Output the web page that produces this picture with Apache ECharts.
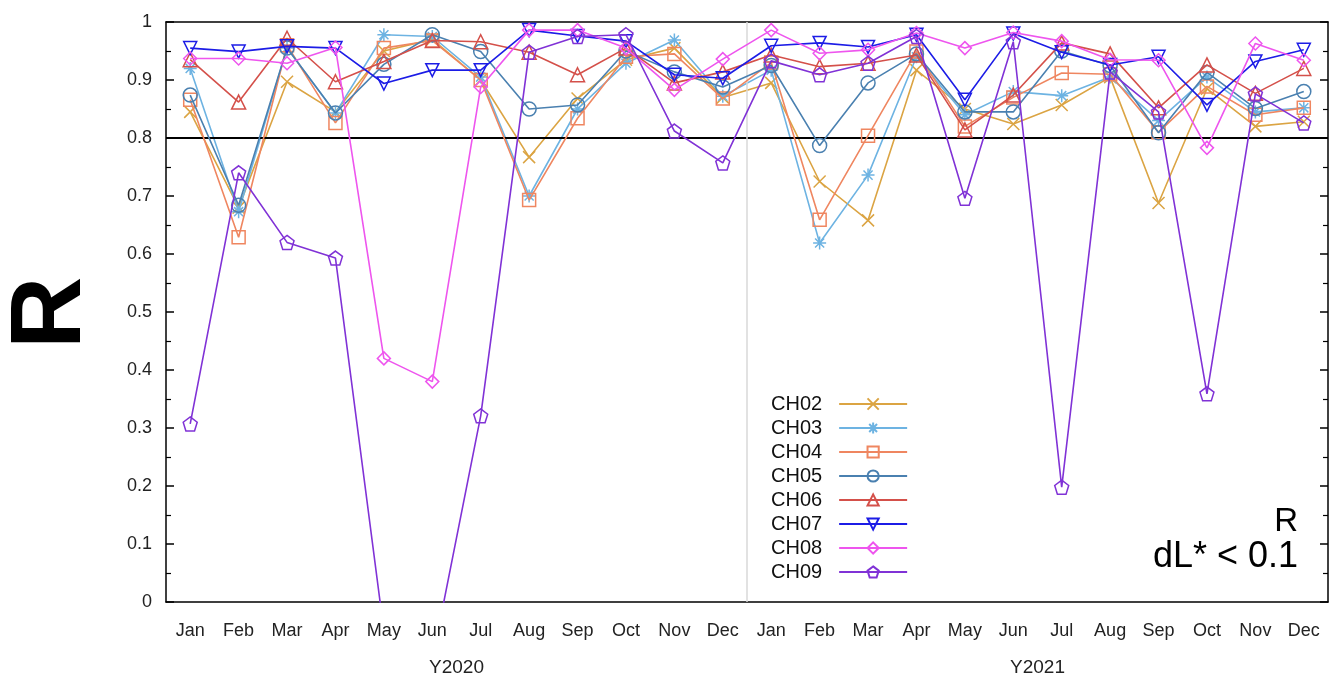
<!DOCTYPE html>
<html>
<head>
<meta charset="utf-8">
<script src="https://cdn.jsdelivr.net/npm/echarts@6/dist/echarts.min.js"></script>
<style>
  html, body { margin: 0; padding: 0; background: #fff; }
  #chart { width: 1331px; height: 691px; }
</style>
</head>
<body>
<div id="chart"></div>
<script>
// Month labels for two consecutive years
const months = ['Jan','Feb','Mar','Apr','May','Jun','Jul','Aug','Sep','Oct','Nov','Dec',
                'Jan','Feb','Mar','Apr','May','Jun','Jul','Aug','Sep','Oct','Nov','Dec'];
const years = ['Y2020', 'Y2021'];
const yTicks = [0, 0.1, 0.2, 0.3, 0.4, 0.5, 0.6, 0.7, 0.8, 0.9, 1];
const threshold = 0.8;
const yearBoundary = 11.5; // between the two Decembers/Januaries

// Monthly R per channel
const CH02 = [0.845,0.680,0.897,0.845,0.950,0.970,0.900,0.767,0.868,0.935,0.955,0.870,
              0.895,0.725,0.658,0.917,0.850,0.824,0.857,0.905,0.688,0.885,0.820,0.828];
const CH03 = [0.920,0.673,0.955,0.843,0.978,0.975,0.905,0.700,0.850,0.929,0.969,0.872,
              0.917,0.619,0.736,0.940,0.840,0.880,0.873,0.905,0.830,0.905,0.845,0.852];
const CH04 = [0.866,0.629,0.960,0.826,0.955,0.968,0.900,0.693,0.834,0.940,0.945,0.868,
              0.930,0.659,0.804,0.949,0.820,0.870,0.912,0.910,0.810,0.889,0.840,0.852];
const CH05 = [0.874,0.684,0.955,0.843,0.927,0.978,0.949,0.850,0.857,0.950,0.914,0.888,
              0.925,0.787,0.895,0.945,0.845,0.845,0.950,0.925,0.809,0.913,0.851,0.880];
const CH06 = [0.935,0.862,0.972,0.897,0.932,0.968,0.966,0.948,0.909,0.955,0.895,0.914,
              0.943,0.923,0.929,0.943,0.814,0.874,0.964,0.945,0.852,0.926,0.877,0.920];
const CH07 = [0.955,0.949,0.958,0.955,0.894,0.917,0.917,0.986,0.976,0.967,0.909,0.903,
              0.959,0.964,0.957,0.978,0.866,0.980,0.948,0.926,0.940,0.857,0.932,0.952];
const CH08 = [0.937,0.937,0.929,0.956,0.420,0.380,0.888,0.986,0.986,0.955,0.883,0.936,
              0.986,0.946,0.952,0.981,0.955,0.982,0.967,0.935,0.934,0.783,0.963,0.934];
const CH09 = [0.307,0.740,0.620,0.593,-0.050,-0.100,0.321,0.948,0.975,0.978,0.812,0.757,
              0.933,0.909,0.929,0.975,0.696,0.966,0.198,0.914,0.845,0.359,0.876,0.826];

const FONT = '"Liberation Sans", Arial, Helvetica, sans-serif';

// Point shapes
const SYM = {
  cross:    'path://M0,0L10,10M10,0L0,10',
  star:     'path://M5,0L5,10M0,5L10,5M1.5,1.5L8.5,8.5M8.5,1.5L1.5,8.5',
  square:   'path://M0,0L10,0L10,10L0,10Z',
  circle:   'circle',
  triUp:    'path://M5,0L10,8.66L0,8.66Z',
  triDown:  'path://M0,0L10,0L5,8.66Z',
  diamond:  'path://M5,0L10,5L5,10L0,5Z',
  pentagon: 'path://M5,0L9.76,3.45L7.94,9.05L2.06,9.05L0.24,3.45Z'
};

const channels = [
  { name: 'CH02', data: CH02, color: '#dba443', symbol: SYM.cross,    size: 12 },
  { name: 'CH03', data: CH03, color: '#6db3e2', symbol: SYM.star,     size: 13 },
  { name: 'CH04', data: CH04, color: '#ef8660', symbol: SYM.square,   size: 13 },
  { name: 'CH05', data: CH05, color: '#4a80b0', symbol: SYM.circle,   size: 14 },
  { name: 'CH06', data: CH06, color: '#d4504a', symbol: SYM.triUp,    size: 14 },
  { name: 'CH07', data: CH07, color: '#1c1ce6', symbol: SYM.triDown,  size: 13 },
  { name: 'CH08', data: CH08, color: '#ee55ee', symbol: SYM.diamond,  size: 13 },
  { name: 'CH09', data: CH09, color: '#8032d6', symbol: SYM.pentagon, size: 14 }
];

const series = channels.map((c, i) => ({
  name: c.name,
  type: 'line',
  data: c.data,
  xAxisIndex: 0,
  yAxisIndex: 0,
  clip: true,
  symbol: c.symbol,
  symbolSize: c.size,
  showAllSymbol: true,
  color: c.color,
  lineStyle: { color: c.color, width: 1.6 },
  itemStyle: { color: 'rgba(255,255,255,0)', borderColor: c.color, borderWidth: 1.5 },
  emphasis: { disabled: true },
  animation: false,
  z: 3 + i
}));

// Reference threshold line
series.push({
  name: 'thr',
  type: 'line',
  data: [],
  xAxisIndex: 0,
  yAxisIndex: 0,
  markLine: {
    silent: true,
    symbol: 'none',
    animation: false,
    label: { show: false },
    lineStyle: { color: '#000', width: 2, type: 'solid' },
    data: [{ yAxis: threshold }]
  },
  z: 2
});

// Faint separator between the two years
series.push({
  name: 'sep',
  type: 'line',
  data: [],
  xAxisIndex: 3,
  yAxisIndex: 0,
  markLine: {
    silent: true,
    symbol: 'none',
    animation: false,
    label: { show: false },
    lineStyle: { color: '#d9d9d9', width: 1.5, type: 'solid' },
    data: [{ xAxis: yearBoundary }]
  },
  z: 1
});

const axisLineStyle = { color: '#000', width: 1.5 };
const labelStyle = { color: '#222', fontSize: 18, fontFamily: FONT };

const option = {
  backgroundColor: '#fff',
  animation: false,
  grid: { left: 166, right: 3, top: 22, bottom: 89, containLabel: false, outerBoundsMode: 'none' },
  legend: {
    orient: 'vertical',
    left: 766,
    top: 389,
    align: 'right',
    itemWidth: 68,
    itemHeight: 14,
    itemGap: 4,
    data: channels.map(c => c.name),
    textStyle: { color: '#111', fontSize: 20, fontFamily: FONT, padding: [0, 12, 0, 0] },
    selectedMode: false
  },
  xAxis: [
    {
      type: 'category',
      data: months,
      position: 'bottom',
      boundaryGap: true,
      axisLine: { onZero: false, lineStyle: axisLineStyle },
      axisTick: { inside: true, alignWithLabel: true, length: 8, lineStyle: { color: '#000', width: 1.5 } },
      axisLabel: Object.assign({ margin: 20, interval: 0 }, labelStyle),
      splitLine: { show: false }
    },
    {
      type: 'category',
      data: months,
      position: 'top',
      boundaryGap: true,
      axisLine: { onZero: false, lineStyle: axisLineStyle },
      axisTick: { inside: true, alignWithLabel: true, length: 8, lineStyle: { color: '#000', width: 1.5 } },
      axisLabel: { show: false },
      splitLine: { show: false }
    },
    {
      type: 'category',
      data: years,
      position: 'bottom',
      offset: 56,
      boundaryGap: true,
      axisLine: { show: false, onZero: false },
      axisTick: { show: false },
      axisLabel: Object.assign({ margin: 0 }, labelStyle, { fontSize: 19 }),
      splitLine: { show: false }
    },
    {
      type: 'value',
      min: -0.5,
      max: months.length - 0.5,
      show: false,
      axisLine: { onZero: false }
    }
  ],
  yAxis: [
    {
      type: 'value',
      min: 0,
      max: 1,
      interval: 0.1,
      position: 'left',
      axisLine: { show: true, onZero: false, lineStyle: axisLineStyle },
      axisTick: { inside: true, length: 8, lineStyle: { color: '#000', width: 1.5 } },
      minorTick: { show: true, splitNumber: 2, length: 5, lineStyle: { color: '#000', width: 1.2 } },
      axisLabel: Object.assign({
        margin: 14,
        formatter: (v) => {
          const t = yTicks.find(x => Math.abs(x - v) < 1e-9);
          return t === undefined ? '' : (t === 0 || t === 1 ? String(t) : t.toFixed(1));
        }
      }, labelStyle),
      splitLine: { show: false }
    },
    {
      type: 'value',
      min: 0,
      max: 1,
      interval: 0.1,
      position: 'right',
      axisLine: { show: true, onZero: false, lineStyle: axisLineStyle },
      axisTick: { inside: true, length: 8, lineStyle: { color: '#000', width: 1.5 } },
      minorTick: { show: true, splitNumber: 2, length: 5, lineStyle: { color: '#000', width: 1.2 } },
      axisLabel: { show: false },
      splitLine: { show: false }
    }
  ],
  graphic: [
    {
      // y-axis title, reading bottom to top
      type: 'text',
      x: 52,
      y: 313,
      rotation: Math.PI / 2,
      style: {
        text: 'R', fill: '#000', font: 'bold 100px ' + FONT,
        textAlign: 'center', textVerticalAlign: 'middle'
      },
      z: 100
    },
    {
      type: 'text',
      right: 33,
      top: 505,
      style: { text: 'R', fill: '#000', font: '33px ' + FONT, textAlign: 'right' },
      z: 100
    },
    {
      type: 'text',
      right: 33,
      top: 539,
      style: { text: 'dL* < 0.1', fill: '#000', font: '36px ' + FONT, textAlign: 'right' },
      z: 100
    }
  ],
  series: series
};

const chart = echarts.init(document.getElementById('chart'), null, { renderer: 'canvas' });
chart.setOption(option);
</script>
</body>
</html>
